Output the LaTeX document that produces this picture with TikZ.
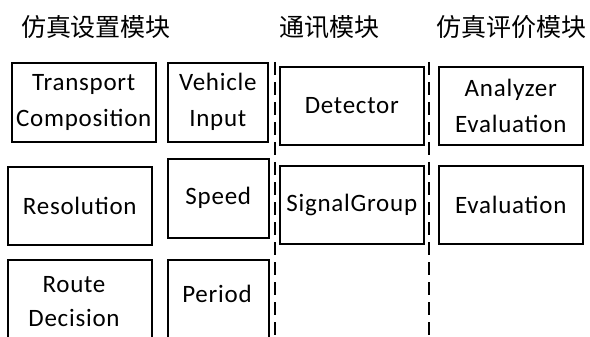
\documentclass[tikz,border=0pt]{standalone}
\usepackage{fontspec}
\setmainfont{Carlito}
\newfontfamily\cjk{Noto Sans CJK SC}
\newfontfamily\boxfont[LetterSpace=3]{Carlito}
\begin{document}
\begin{tikzpicture}[x=1pt,y=-1pt,
  box/.style={draw=black,line width=1.6pt,anchor=north west,inner sep=0pt,
    font=\boxfont\fontsize{25}{36}\selectfont,align=center,fill=white},
  boxtext/.style={font=\boxfont\fontsize{25}{34}\selectfont,align=center,inner sep=0pt},
  title/.style={font=\cjk\fontsize{25}{28}\selectfont,inner sep=0pt},
  sep/.style={line width=2.2pt,dash pattern=on 13pt off 7pt}]
\useasboundingbox (0,0) rectangle (590,337);
% titles
\node[title] (t1) at (96,27) {仿真设置模块};
\node[title] (t2) at (329,27) {通讯模块};
\node[title] (t3) at (511,27) {仿真评价模块};
% column 1
\node[box,minimum width=144pt,minimum height=79pt] (tc) at (11,62) {Transport\\Composition};
\node[box,minimum width=144pt,minimum height=78pt] (res) at (7,166) {Resolution};
\node[box,minimum width=144pt,minimum height=100pt] (rd) at (7,259) {};
\node[boxtext] (rdt) at (74,302) {Route\\Decision};
% column 2
\node[box,minimum width=100pt,minimum height=79pt] (vi) at (167,62) {Vehicle\\Input};
\node[box,minimum width=101pt,minimum height=79pt] (sp) at (167,158) {Speed};
\node[box,minimum width=101pt,minimum height=100pt] (pe) at (167,259) {};
\node[boxtext] (pet) at (217,294) {Period};
% column 3
\node[box,minimum width=144pt,minimum height=78pt] (det) at (279,66) {Detector};
\node[box,minimum width=144pt,minimum height=78pt] (sg) at (279,165) {SignalGroup};
% column 4
\node[box,minimum width=144pt,minimum height=78pt] (ae) at (438,66) {Analyzer\\Evaluation};
\node[box,minimum width=144pt,minimum height=78pt] (ev) at (438,165) {Evaluation};
% separators
\coordinate (d1a) at (275,62);
\coordinate (d1b) at (275,337);
\coordinate (d2a) at (429,62);
\coordinate (d2b) at (429,337);
\draw[sep] (d1a) -- (d1b);
\draw[sep] (d2a) -- (d2b);
\end{tikzpicture}
\end{document}
